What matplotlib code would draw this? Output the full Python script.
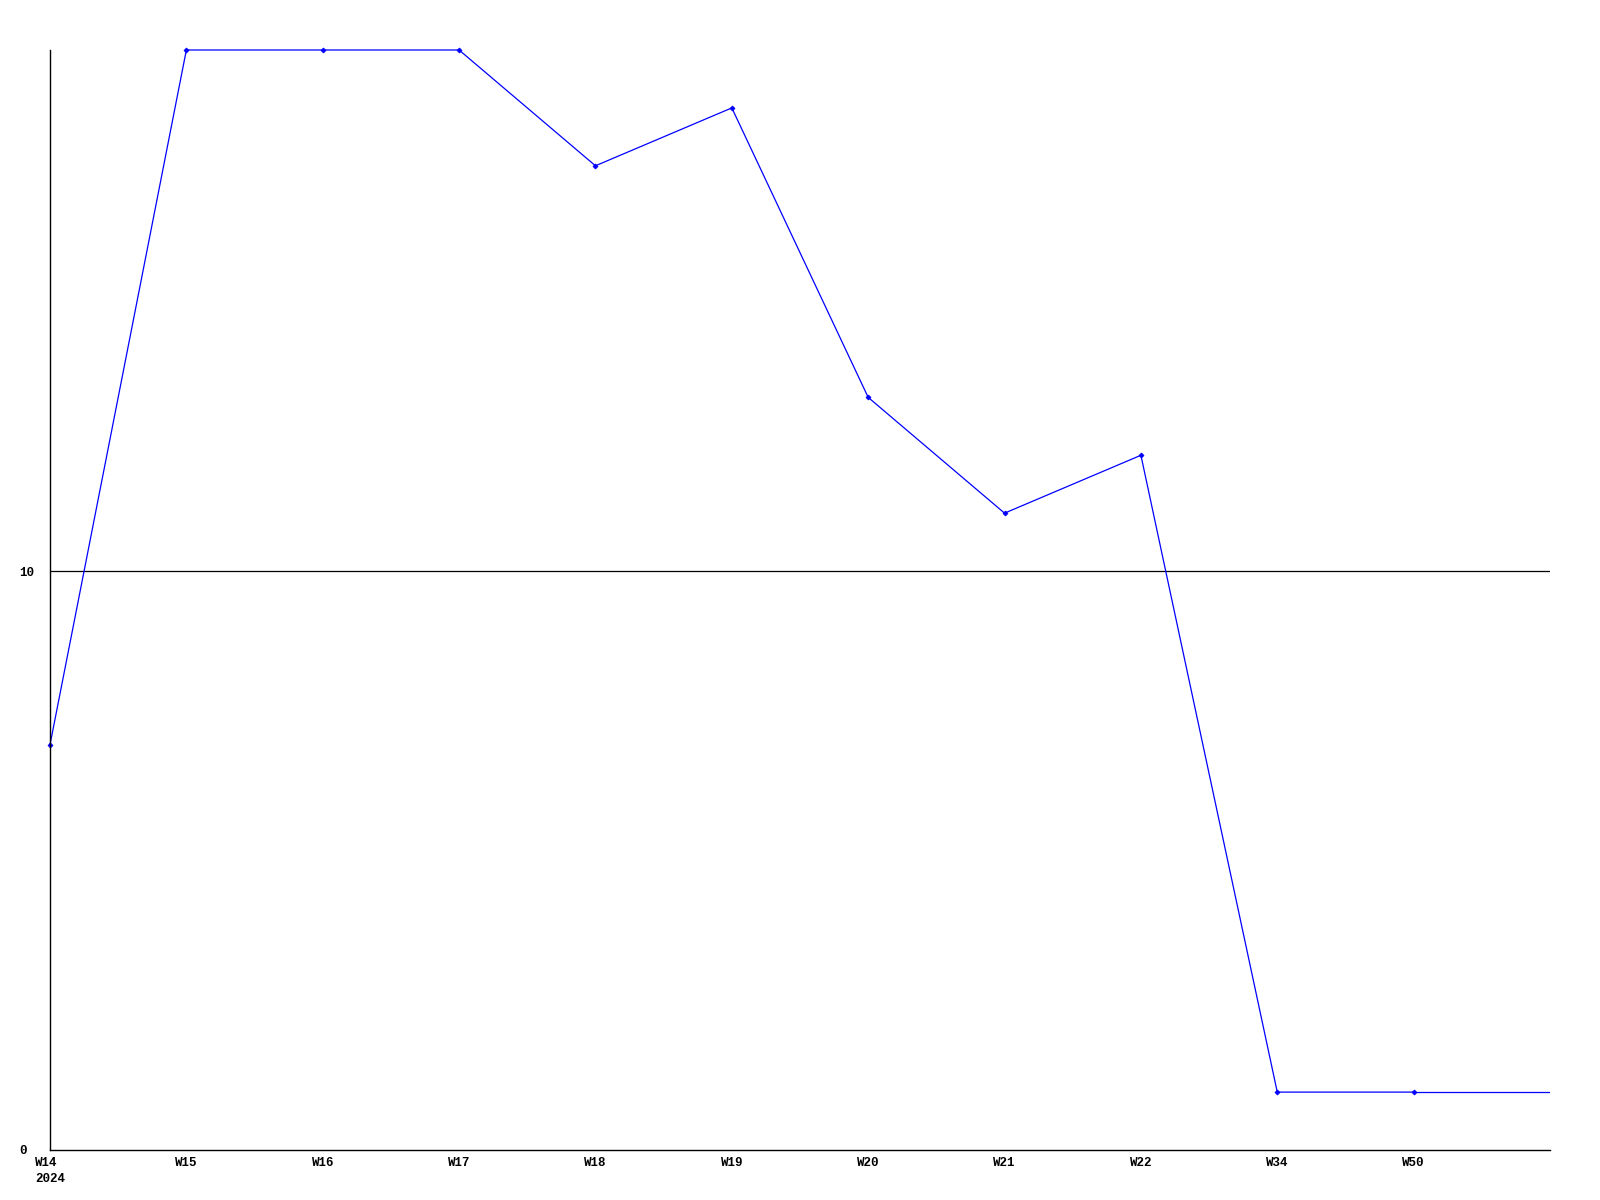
import numpy as np
from matplotlib import pyplot as plt

# weekly values
weeks = ['W14\n2024', 'W15', 'W16', 'W17', 'W18', 'W19', 'W20', 'W21', 'W22', 'W34', 'W50']
values = [7, 19, 19, 19, 17, 18, 13, 11, 12, 1, 1]
y_ticks = [0, 10]

fig = plt.figure(figsize=(16, 12), dpi=100)
ax = fig.add_axes([50/1600, 50/1200, 1500/1600, 1100/1200])

x = np.arange(len(values))
ax.plot(x, values, '-', color='#0000ff', lw=0.9, marker='D', ms=2.5, mew=0.6, clip_on=False)
# last value carries on to the right edge without a marker
ax.plot([x[-1], x[-1] + 1], [values[-1], values[-1]], '-', color='#0000ff', lw=0.9)

ax.set_xlim(0, len(values))
ax.set_ylim(0, 19)

ax.axhline(10, color='black', lw=0.9, zorder=0)

ax.spines['top'].set_visible(False)
ax.spines['right'].set_visible(False)
for s in ('left', 'bottom'):
    ax.spines[s].set_linewidth(1.0)
    ax.spines[s].set_color('black')

font = dict(family=['Liberation Mono', 'DejaVu Sans Mono'], weight='bold', size=9)

ax.set_xticks(x)
ax.set_xticklabels(weeks, multialignment='left', linespacing=1.5, **font)
ax.set_yticks(y_ticks)
ax.set_yticklabels([str(v) for v in y_ticks], ha='left', **font)
ax.tick_params(axis='x', length=0, pad=5)
ax.tick_params(axis='y', length=0, pad=22)

fig.savefig('out.png', dpi=100)
